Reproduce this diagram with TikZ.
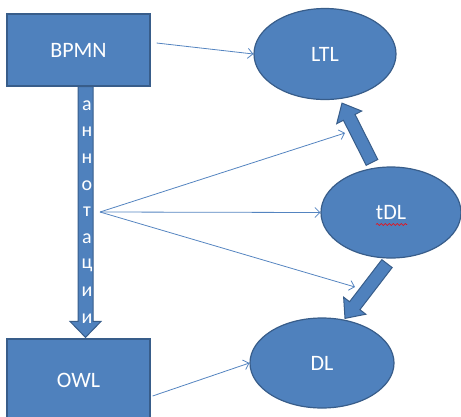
\documentclass[tikz,border=0pt]{standalone}
\usepackage{fontspec}
\setmainfont{Carlito}
\usetikzlibrary{positioning,arrows.meta,calc,shapes.geometric,decorations.pathmorphing}
\definecolor{boxblue}{RGB}{79,129,189}
\definecolor{boxline}{RGB}{56,93,138}
\definecolor{linkblue}{RGB}{84,132,192}
\tikzset{
  box/.style = {rectangle, draw=boxline, line width=1.2pt, fill=boxblue,
                text=white, inner sep=0pt,
                minimum width=143pt, minimum height=72pt,
                font=\fontsize{22}{26}\selectfont},
  oval/.style = {box, ellipse, minimum width=142pt, minimum height=91pt},
  link/.style = {-{Straight Barb[length=5pt,width=10pt]}, draw=linkblue, line width=0.8pt},
  fat/.style  = {fill=boxblue, draw=boxline, line width=1pt, line join=miter},
  letter/.style = {text=white, inner sep=0pt, font=\fontsize{20}{24}\selectfont}
}
% dicker Pfeil: #1 halbe Schaftbreite, #2 halbe Spitzenbreite, #3 Start, #4 Spitze
\newcommand\fatarrow[4]{%
  \coordinate (fa-base) at ($(#4)!16pt!(#3)$);
  \draw[fat] ($(#3)!#1!90:(#4)$) -- ($(fa-base)!#1!90:(#4)$)
    -- ($(fa-base)!#2!90:(#4)$) -- (#4) -- ($(fa-base)!#2!-90:(#4)$)
    -- ($(fa-base)!#1!-90:(#4)$) -- ($(#3)!#1!-90:(#4)$) -- cycle;}

\begin{document}
\begin{tikzpicture}[x=1pt, y=-1pt]
  \useasboundingbox (0,0) rectangle (461,416);
  \node[box] (bpmn) at (78.5,50) {BPMN};
  \node[box, minimum height=82pt] (owl) at (78.5,380) {OWL};
  \node[oval] (ltl) at (325,54) {LTL};
  \node[oval, minimum width=140pt] (tdl) at (391,212.5) {tDL};
  \node[oval, minimum width=144pt, minimum height=90pt] (dl) at (322,363) {DL};
  \draw[red, line width=0.6pt, decorate,
        decoration={snake, amplitude=1pt, segment length=4pt}]
    ($(tdl.center)+(-15,12)$) -- ($(tdl.center)+(16,12)$);
  % duenne Pfeile
  \coordinate (fan) at (100,212);
  \coordinate (fan-up) at (345,133);
  \coordinate (fan-dn) at (355,287);
  \draw[link] (fan) -- (fan-up);
  \draw[link] (fan) -- (tdl.west);
  \draw[link] (fan) -- (fan-dn);
  \draw[link] ($(bpmn.east)+(6,-7)$) -- (ltl.west);
  \draw[link] ($(owl.east)+(2,16)$) -- (dl.west);
  % dicke Pfeile
  \coordinate (ann-s) at ($(bpmn.south)+(7,0)$);
  \coordinate (ann-t) at ($(owl.north)+(7,-1)$);
  \fatarrow{7.5pt}{15.5pt}{ann-s}{ann-t}
  \coordinate (up-s) at ($(tdl.north)+(-19,-4)$);
  \coordinate (up-t) at ($(ltl.south)+(17,3)$);
  \fatarrow{6.5pt}{14pt}{up-s}{up-t}
  \coordinate (dn-s) at ($(tdl.south)+(-4,5)$);
  \coordinate (dn-t) at ($(dl.north)+(23,1)$);
  \fatarrow{6.5pt}{14pt}{dn-s}{dn-t}
  \foreach \ch [count=\i] in {а,н,н,о,т,а,ц,и,и}
    \node[letter] (ann\i) at (87,79+26.6*\i) {\ch};
\end{tikzpicture}
\end{document}
